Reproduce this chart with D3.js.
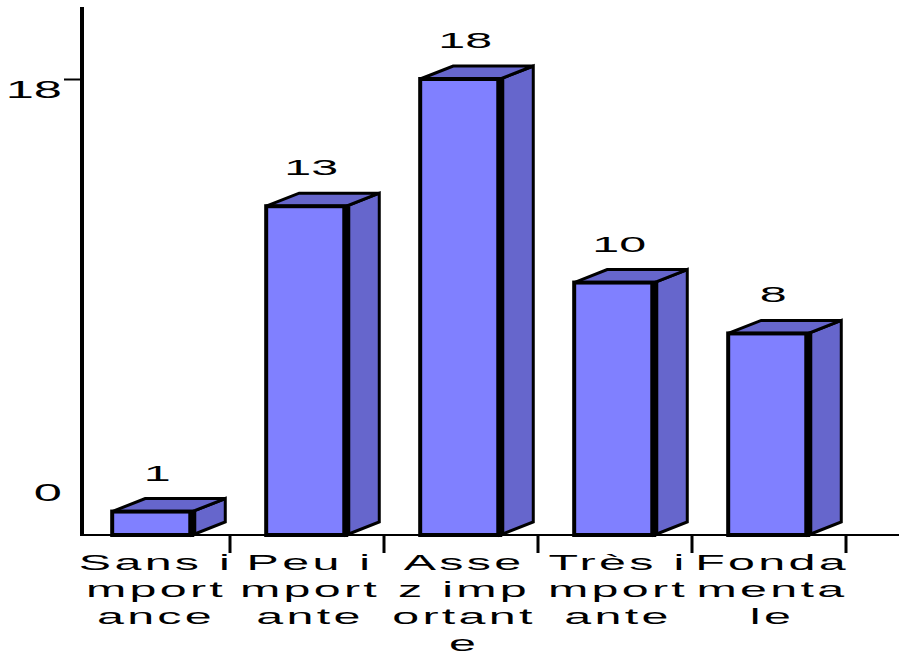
<!DOCTYPE html>
<html>
<head>
<meta charset="utf-8">
<script src="https://cdn.jsdelivr.net/npm/d3@7"></script>
<style>
html,body{margin:0;padding:0;background:#fff;}
svg{display:block;}
text{font-family:"Liberation Sans",Arial,sans-serif;fill:#000;}
</style>
</head>
<body>
<svg id="chart" width="899" height="656"></svg>
<script>
const categories = ["Sans importance", "Peu importante", "Assez importante", "Très importante", "Fondamentale"];
const labelLines = [
  ["Sans i", "mport", "ance"],
  ["Peu i", "mport", "ante"],
  ["Asse", "z imp", "ortant", "e"],
  ["Très i", "mport", "ante"],
  ["Fonda", "menta", "le"]
];
const values = [1, 13, 18, 10, 8];
const yTicks = [0, 18];

const W = 899, H = 656;
const baseY = 535;
const dx = 33, dy = 13;
const SX = 2.2;
const frontColor = "#8080ff", sideColor = "#6666cc";

const svg = d3.select("#chart");

const x = d3.scaleBand().domain(categories).range([76, 846]).padding(0);
const y = d3.scaleLinear().domain([0, 18]).range([537, 79]);
const bw = x.bandwidth();

// baseline
svg.append("line").attr("x1", 80).attr("x2", W).attr("y1", baseY).attr("y2", baseY)
  .attr("stroke", "#000").attr("stroke-width", 2);

// category separators
svg.append("g").selectAll("line").data(categories).join("line")
  .attr("x1", d => x(d) + bw).attr("x2", d => x(d) + bw)
  .attr("y1", baseY).attr("y2", baseY + 18)
  .attr("stroke", "#000").attr("stroke-width", 3);

// y axis
const yAxis = svg.append("g").attr("transform", "translate(82,0)")
  .call(d3.axisLeft(y).tickValues(yTicks).tickSize(18).tickFormat(d3.format("d")));
yAxis.select(".domain").remove();
yAxis.selectAll(".tick line").attr("stroke", "#000").attr("stroke-width", 2)
  .attr("display", d => d === 0 ? "none" : null);
yAxis.selectAll(".tick text")
  .attr("x", null).attr("dy", null)
  .attr("font-size", 23).attr("text-anchor", "end")
  .attr("fill", "#000")
  .attr("transform", d => `translate(-20,${d === 0 ? -37 : 18}) scale(${SX},1)`);
svg.append("line").attr("x1", 82).attr("x2", 82).attr("y1", 7).attr("y2", baseY + 1)
  .attr("stroke", "#000").attr("stroke-width", 4);

// bars
const bars = svg.append("g").selectAll("g").data(values).join("g");
const fl = (d, i) => x(categories[i]) + 0.235 * bw;
const fr = (d, i) => x(categories[i]) + 0.755 * bw;

bars.append("polygon") // side
  .attr("points", (d, i) => {
    const a = fr(d, i), t = y(d);
    return [[a, t], [a + dx, t - dy], [a + dx, baseY - dy], [a, baseY]].map(p => p.join(",")).join(" ");
  })
  .attr("fill", sideColor).attr("stroke", "#000").attr("stroke-width", 3).attr("stroke-linejoin", "miter");

bars.append("polygon") // top
  .attr("points", (d, i) => {
    const a = fl(d, i), b = fr(d, i), t = y(d);
    return [[a, t], [a + dx, t - dy], [b + dx, t - dy], [b, t]].map(p => p.join(",")).join(" ");
  })
  .attr("fill", sideColor).attr("stroke", "#000").attr("stroke-width", 3);

bars.append("rect") // front
  .attr("x", (d, i) => fl(d, i))
  .attr("y", d => y(d))
  .attr("width", (d, i) => fr(d, i) - fl(d, i))
  .attr("height", d => baseY - y(d))
  .attr("fill", frontColor).attr("stroke", "#000").attr("stroke-width", 4);

bars.append("line") // thick front-right edge
  .attr("x1", (d, i) => fr(d, i)).attr("x2", (d, i) => fr(d, i))
  .attr("y1", d => y(d)).attr("y2", baseY)
  .attr("stroke", "#000").attr("stroke-width", 8);

// value labels
bars.append("text")
  .attr("text-anchor", "middle").attr("font-size", 22)
  .attr("transform", (d, i) => `translate(${(fl(d, i) + fr(d, i)) / 2 + 5},${y(d) - dy - 18}) scale(${SX},1)`)
  .text(d => d);

// category labels
const cl = svg.append("g").selectAll("g").data(categories).join("g");
cl.each(function (c, i) {
  const g = d3.select(this);
  labelLines[i].forEach((ln, j) => {
    g.append("text")
      .attr("text-anchor", "middle").attr("font-size", 22)
      .attr("letter-spacing", 1.5)
      .attr("transform", `translate(${x(c) + bw / 2 + 3},${570 + j * 27}) scale(${SX},1)`)
      .text(ln);
  });
});
</script>
</body>
</html>
